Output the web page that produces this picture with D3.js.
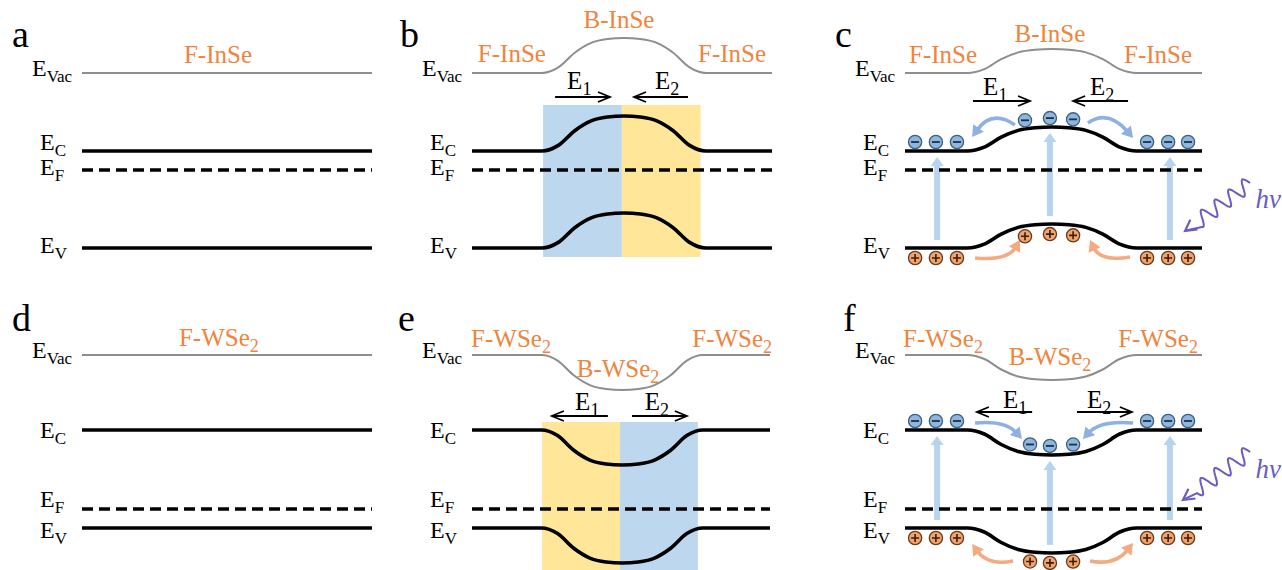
<!DOCTYPE html>
<html>
<head>
<meta charset="utf-8">
<script src="https://cdn.jsdelivr.net/npm/d3@7"></script>
<style>
  body { margin: 0; background: #fff; }
  svg { display: block; }
</style>
</head>
<body>
<svg id="fig" width="1282" height="570"></svg>
<script>
// ---------------- data ----------------
// band edges relative to the vacuum level (eV): vacuum, conduction, Fermi, valence
const levelKeys = ["Vac", "C", "F", "V"];
const inseLevels = [0, -3.9, -4.85, -8.75];
const wse2Levels = [0, -3.75, -7.7, -8.65];
// shift of the bands inside the bulk region, one value per panel a..f (eV)
const bandShift = [0, 1.75, 1.2, 0, -1.75, -1.25];
// normalised shape of the band bending across the bulk region
const bendProfile = [[0, 0], [0.1, 0.16], [0.2, 0.58], [0.3, 0.86], [0.4, 0.97], [0.5, 1],
                     [0.6, 0.97], [0.7, 0.86], [0.8, 0.58], [0.9, 0.16], [1, 0]];
// region names written above each diagram
const regionNames = [
  ["F-InSe"],
  ["F-InSe", "B-InSe", "F-InSe"],
  ["F-InSe", "B-InSe", "F-InSe"],
  ["F-WSe_2"],
  ["F-WSe_2", "B-WSe_2", "F-WSe_2"],
  ["F-WSe_2", "B-WSe_2", "F-WSe_2"]
];
const fieldNames = ["E_1", "E_2"];
const photonLabel = "hν";

// ---------------- layout ----------------
const SERIF = '"Liberation Serif"';
const ORANGE = "#f0843c";
const PURPLE = "#6a5cc4";
const rowVacY = [73, 355];        // pixel height of the vacuum level in each row
const pxPerEv = 20;

const panels = [
  { id: "a", row: 0, x0: 82,  x1: 372,  mat: 0, bend: null,
    letter: [12, 47], names: [[0.469, 63]] },
  { id: "b", row: 0, x0: 472, x1: 772,  mat: 0, bend: [0.233, 0.78],
    letter: [400, 47], names: [[0.133, 62], [0.49, 28], [0.867, 62]],
    box: { colors: ["#bdd7ee", "#ffe699"], top: -1.6, bottom: -9.2 },
    fields: { y: 97, arrows: [[0.277, 0.46], [0.72, 0.54]], labels: [[0.317, 89], [0.61, 89]] } },
  { id: "c", row: 0, x0: 905, x1: 1202, mat: 0, bend: [0.21, 0.78],
    letter: [835, 47], names: [[0.128, 63], [0.488, 42], [0.852, 63]],
    fields: { y: 101, arrows: [[0.229, 0.421], [0.751, 0.566]], labels: [[0.263, 95], [0.623, 95]] },
    carriers: { groups: [[0.034, 0.104, 0.175], [0.404, 0.488, 0.566], [0.815, 0.886, 0.953]],
                lifts: [0.108, 0.488, 0.892],
                eFlow: [[[0.37, -2.6], [0.293, -1.8], [0.226, -3.2]],
                        [[0.616, -2.5], [0.684, -1.8], [0.768, -3.25]]],
                hFlow: [[[0.236, -9.25], [0.347, -9.4], [0.387, -8.35]],
                        [[0.758, -9.2], [0.657, -9.45], [0.623, -8.35]]],
                photon: { from: [1.162, -5.5], to: [0.943, -7.9], text: [1.18, -6.75] } } },
  { id: "d", row: 1, x0: 82,  x1: 372,  mat: 1, bend: null,
    letter: [12, 331], names: [[0.472, 346]] },
  { id: "e", row: 1, x0: 472, x1: 770,  mat: 1, bend: [0.233, 0.775],
    letter: [398, 331], names: [[0.131, 347], [0.49, 377], [0.873, 347]],
    box: { colors: ["#ffe699", "#bdd7ee"], top: -3.35, bottom: -11 },
    fields: { y: 416, arrows: [[0.456, 0.268], [0.537, 0.721]], labels: [[0.346, 410], [0.58, 410]] } },
  { id: "f", row: 1, x0: 905, x1: 1202, mat: 1, bend: [0.21, 0.78],
    letter: [843, 331], names: [[0.128, 347], [0.488, 365], [0.852, 347]],
    fields: { y: 412, arrows: [[0.428, 0.242], [0.579, 0.764]], labels: [[0.33, 408], [0.613, 408]] },
    carriers: { groups: [[0.034, 0.104, 0.175], [0.421, 0.488, 0.566], [0.815, 0.886, 0.953]],
                lifts: [0.108, 0.488, 0.892],
                eFlow: [[[0.236, -3.4], [0.337, -3.25], [0.394, -4.2]],
                        [[0.768, -3.4], [0.657, -3.25], [0.599, -4.2]]],
                hFlow: [[[0.364, -10.3], [0.279, -10.55], [0.226, -9.45]],
                        [[0.623, -10.3], [0.707, -10.55], [0.768, -9.4]]],
                photon: { from: [1.162, -4.85], to: [0.936, -7.25], text: [1.18, -6.15] } } }
];
// baseline offsets (px) of the level labels relative to their line, per row
const levelLabelDy = [[3, -1, 5, 5], [3, 8, -2, 10]];
// shaded bulk-region boxes (fraction of the panel width)
const boxSpan = { b: [0.237, 0.762], e: [0.235, 0.758] };

// ---------------- drawing ----------------
const svg = d3.select("#fig");

function addText(g, x, y, size) {
  return g.append("text")
    .attr("x", x).attr("y", y)
    .style("font-family", SERIF)
    .style("font-size", size + "px");
}

function richText(g, str, x, y, o) {
  const [main, sub] = str.split("_");
  const t = addText(g, x, y, o.size)
    .attr("fill", o.color || "#000")
    .attr("text-anchor", o.anchor || "start");
  t.append("tspan").text(main);
  if (sub) t.append("tspan").attr("dy", o.subDy).style("font-size", o.subSize + "px").text(sub);
  return t;
}

function bendAt(p, t) {
  if (!p.bend) return 0;
  const u = (t - p.bend[0]) / (p.bend[1] - p.bend[0]);
  if (u <= 0 || u >= 1) return 0;
  const prof = d3.scaleLinear().domain(bendProfile.map(d => d[0])).range(bendProfile.map(d => d[1]));
  return prof(u);
}

function bandPoints(p, level, shift) {
  if (!p.bend) return [[0, level], [1, level]];
  const [t0, t1] = p.bend;
  return [[0, level]]
    .concat(bendProfile.map(([u, f]) => [t0 + u * (t1 - t0), level + shift * f]))
    .concat([[1, level]]);
}

function filledHead(g, tip, from, len, half, color) {
  const dx = tip[0] - from[0], dy = tip[1] - from[1];
  const L = Math.hypot(dx, dy), ux = dx / L, uy = dy / L;
  const bx = tip[0] - ux * len, by = tip[1] - uy * len;
  g.append("path")
    .attr("d", `M${tip[0]},${tip[1]}L${bx - uy * half},${by + ux * half}L${bx + uy * half},${by - ux * half}Z`)
    .attr("fill", color);
}

function openHead(g, tip, from, len, half, color, w) {
  const dx = tip[0] - from[0], dy = tip[1] - from[1];
  const L = Math.hypot(dx, dy), ux = dx / L, uy = dy / L;
  const bx = tip[0] - ux * len, by = tip[1] - uy * len;
  g.append("path")
    .attr("d", `M${bx - uy * half},${by + ux * half}L${tip[0]},${tip[1]}L${bx + uy * half},${by - ux * half}`)
    .attr("fill", "none").attr("stroke", color).attr("stroke-width", w)
    .attr("stroke-linejoin", "miter");
}

panels.forEach((p, i) => {
  const g = svg.append("g").attr("class", "panel panel-" + p.id);
  const levels = p.mat === 0 ? inseLevels : wse2Levels;
  const shift = bandShift[i];
  const x = d3.scaleLinear().domain([0, 1]).range([p.x0, p.x1]);
  const y = d3.scaleLinear().domain([0, -10]).range([rowVacY[p.row], rowVacY[p.row] + 10 * pxPerEv]);
  const line = d3.line().x(d => x(d[0])).y(d => y(d[1])).curve(d3.curveMonotoneX);

  // bulk region shading
  if (p.box) {
    const [b0, b1] = boxSpan[p.id];
    const mid = (b0 + b1) / 2;
    [[b0, mid], [mid, b1]].forEach(([a, b], k) => {
      g.append("rect")
        .attr("x", x(a)).attr("width", x(b) - x(a))
        .attr("y", y(p.box.top)).attr("height", y(p.box.bottom) - y(p.box.top))
        .attr("fill", p.box.colors[k]);
    });
  }

  // optical excitation arrows
  if (p.carriers) {
    p.carriers.lifts.forEach(t => {
      const f = bendAt(p, t);
      const yv = y(levels[3] + shift * f) - 8;
      const yc = y(levels[1] + shift * f) + 6;
      g.append("line")
        .attr("x1", x(t)).attr("x2", x(t)).attr("y1", yv).attr("y2", yc + 8)
        .attr("stroke", "#b7d4ef").attr("stroke-width", 6);
      filledHead(g, [x(t), yc], [x(t), yv], 9, 6.5, "#b7d4ef");
    });
  }

  // vacuum level
  g.append("path")
    .attr("d", line(bandPoints(p, levels[0], shift)))
    .attr("fill", "none").attr("stroke", "#8e8e8e").attr("stroke-width", 2);
  // conduction and valence band edges
  [1, 3].forEach(k => {
    g.append("path")
      .attr("d", line(bandPoints(p, levels[k], shift)))
      .attr("fill", "none").attr("stroke", "#000").attr("stroke-width", 3.6);
  });
  // Fermi level
  g.append("line")
    .attr("x1", x(0)).attr("x2", x(1))
    .attr("y1", y(levels[2])).attr("y2", y(levels[2]))
    .attr("stroke", "#000").attr("stroke-width", 3.6).attr("stroke-dasharray", "11,6");

  // panel letter
  addText(g, p.letter[0], p.letter[1], 38).text(p.id);

  // level labels
  levelKeys.forEach((key, k) => {
    richText(g, "E_" + key, p.x0 - (k === 0 ? 50 : 42), y(levels[k]) + levelLabelDy[p.row][k],
      { size: 24, subSize: 17, subDy: 6 });
  });

  // region names
  p.names.forEach(([t, by], k) => {
    richText(g, regionNames[i][k], x(t), by,
      { size: 25, subSize: 18, subDy: 6, color: ORANGE, anchor: "middle" });
  });

  // built-in field arrows
  if (p.fields) {
    p.fields.arrows.forEach(([a, b], k) => {
      g.append("line")
        .attr("x1", x(a)).attr("x2", x(b)).attr("y1", p.fields.y).attr("y2", p.fields.y)
        .attr("stroke", "#000").attr("stroke-width", 1.8);
      openHead(g, [x(b), p.fields.y], [x(a), p.fields.y], 12, 5, "#000", 1.8);
      const [lt, ly] = p.fields.labels[k];
      richText(g, fieldNames[k], x(lt), ly, { size: 25, subSize: 18, subDy: 6 });
    });
  }

  if (p.carriers) {
    // carrier transfer arrows
    const flow = (pts, color) => {
      const [s, c, e] = pts.map(([t, en]) => [x(t), y(en)]);
      const dx = e[0] - c[0], dy = e[1] - c[1], L = Math.hypot(dx, dy);
      const ee = [e[0] - dx / L * 8, e[1] - dy / L * 8];
      g.append("path")
        .attr("d", `M${s[0]},${s[1]}Q${c[0]},${c[1]} ${ee[0]},${ee[1]}`)
        .attr("fill", "none").attr("stroke", color).attr("stroke-width", 3.6);
      filledHead(g, e, c, 11, 6.5, color);
    };
    p.carriers.eFlow.forEach(pts => flow(pts, "#8fb0e0"));
    p.carriers.hFlow.forEach(pts => flow(pts, "#f5ab82"));

    // electrons on the conduction band, holes under the valence band
    p.carriers.groups.flat().forEach(t => {
      const f = bendAt(p, t);
      const ey = y(levels[1] + shift * f) - 9;
      const hy = y(levels[3] + shift * f) + 10;
      const cx = x(t);
      g.append("circle").attr("cx", cx).attr("cy", ey).attr("r", 6.6)
        .attr("fill", "#8db7de").attr("stroke", "#3f5f80").attr("stroke-width", 1.3);
      g.append("line").attr("x1", cx - 4).attr("x2", cx + 4).attr("y1", ey).attr("y2", ey)
        .attr("stroke", "#1f2f45").attr("stroke-width", 1.8);
      g.append("circle").attr("cx", cx).attr("cy", hy).attr("r", 6.6)
        .attr("fill", "#f2a46e").attr("stroke", "#6b3a1a").attr("stroke-width", 1.3);
      g.append("path").attr("d", `M${cx - 4},${hy}H${cx + 4}M${cx},${hy - 4}V${hy + 4}`)
        .attr("stroke", "#3a1e0c").attr("stroke-width", 1.6);
    });

    // incoming photon
    const ph = p.carriers.photon;
    const s = [x(ph.from[0]), y(ph.from[1])], tip = [x(ph.to[0]), y(ph.to[1])];
    const dx = tip[0] - s[0], dy = tip[1] - s[1], L = Math.hypot(dx, dy);
    const ux = dx / L, uy = dy / L, nx = -uy, ny = ux;
    const waveLen = L - 16, period = 17, amp = 7.5;
    const pts = d3.range(0, waveLen + 0.5, 1).map(u => {
      const a = amp * Math.sin(2 * Math.PI * u / period);
      return [s[0] + ux * u + nx * a, s[1] + uy * u + ny * a];
    });
    pts.push([tip[0] - ux * 1, tip[1] - uy * 1]);
    g.append("path").attr("d", d3.line()(pts))
      .attr("fill", "none").attr("stroke", PURPLE).attr("stroke-width", 2);
    openHead(g, tip, s, 11, 6, PURPLE, 2.2);
    addText(g, x(ph.text[0]), y(ph.text[1]), 27)
      .style("font-style", "italic")
      .attr("fill", PURPLE).text(photonLabel);
  }
});
</script>
</body>
</html>
